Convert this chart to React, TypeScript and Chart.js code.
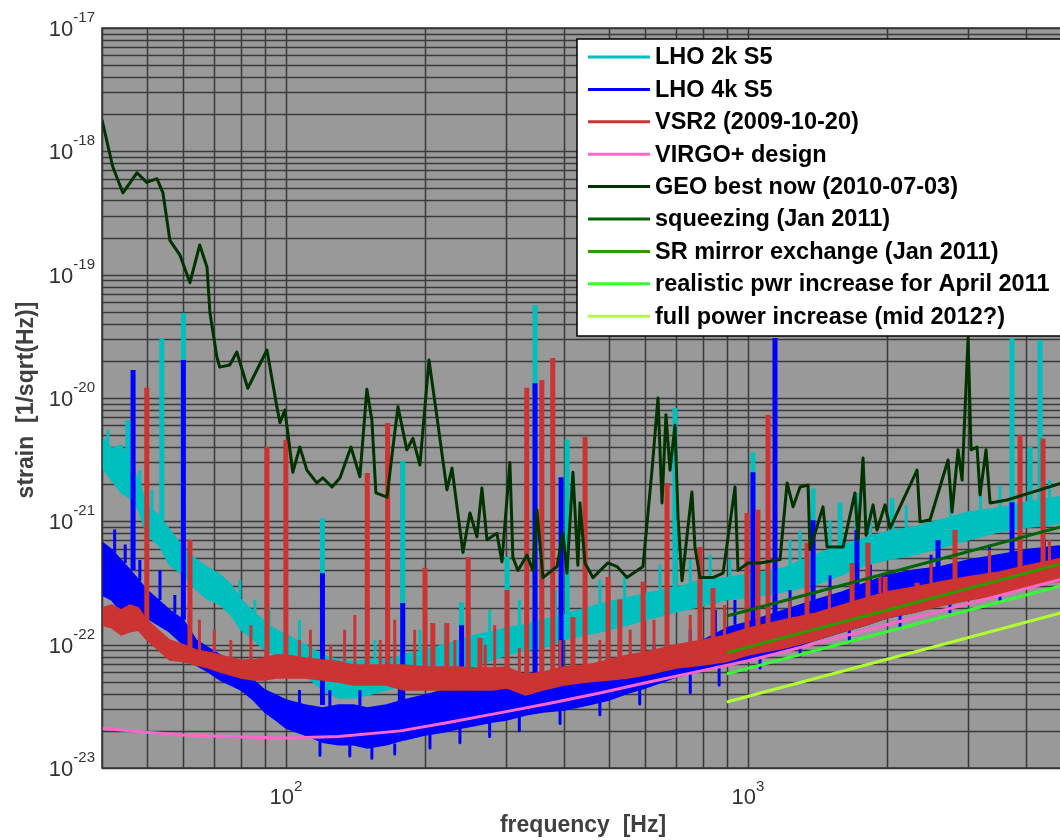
import React, { useEffect, useRef } from "react";
import { Chart, registerables } from "chart.js";

Chart.register(...registerables);

const CANVAS_W = 1080;
const CANVAS_H = 840;

// ---------- data (frequency in Hz, strain in 1/sqrt(Hz)) ----------
const bandFreq = [40, 42, 44, 46, 48, 50, 53, 56, 60, 64, 68, 72, 76, 80, 85, 90, 95, 100, 110, 120, 130, 140, 150, 165, 180, 200, 220, 240, 260, 280, 300, 330, 360, 400, 450, 500, 550, 600, 700, 800, 900, 1000, 1200, 1400, 1600, 1800, 2000, 2300, 2600, 3000, 3500, 4000, 4500, 5000];

const lho2kHigh = [4.8e-21, 3.9e-21, 4.15e-21, 3.0e-21, 2.15e-21, 1.35e-21, 1.12e-21, 8.57e-22, 6.1e-22, 4.89e-22, 4.2e-22, 3.7e-22, 3.07e-22, 2.32e-22, 1.85e-22, 1.54e-22, 1.32e-22, 1.21e-22, 1.0e-22, 8.25e-23, 7.51e-23, 7.3e-23, 7.51e-23, 7.51e-23, 8.25e-23, 9.05e-23, 1.0e-22, 1.1e-22, 1.21e-22, 1.27e-22, 1.37e-22, 1.45e-22, 1.59e-22, 1.75e-22, 2.0e-22, 2.23e-22, 2.4e-22, 2.6e-22, 2.9e-22, 3.37e-22, 3.5e-22, 3.7e-22, 4.2e-22, 5.37e-22, 6.47e-22, 7.35e-22, 8.25e-22, 9.05e-22, 1.02e-21, 1.19e-21, 1.28e-21, 1.43e-21, 1.54e-21, 1.63e-21];
const lho2kLow = [2.7e-21, 2.15e-21, 1.72e-21, 1.54e-21, 1.23e-21, 7.8e-22, 6.47e-22, 4.46e-22, 3.7e-22, 2.79e-22, 2.32e-22, 2.11e-22, 1.75e-22, 1.32e-22, 1.1e-22, 9.05e-23, 8.25e-23, 7.3e-23, 5.68e-23, 4.29e-23, 3.7e-23, 3.7e-23, 3.91e-23, 4.29e-23, 4.71e-23, 5.17e-23, 5.35e-23, 6.0e-23, 6.84e-23, 7.51e-23, 8.25e-23, 9.05e-23, 9.4e-23, 1.1e-22, 1.21e-22, 1.32e-22, 1.45e-22, 1.59e-22, 1.85e-22, 2.07e-22, 2.32e-22, 2.4e-22, 2.7e-22, 3.07e-22, 3.7e-22, 4.46e-22, 4.89e-22, 5.37e-22, 6.1e-22, 7.1e-22, 8.25e-22, 8.9e-22, 9.4e-22, 9.94e-22];

const lho4kHigh = [6.8e-22, 5.87e-22, 4.86e-22, 4.03e-22, 3.35e-22, 2.78e-22, 2.3e-22, 1.91e-22, 1.59e-22, 1.09e-22, 9.4e-23, 8.25e-23, 7.26e-23, 6.23e-23, 5.17e-23, 4.29e-23, 3.91e-23, 3.56e-23, 3.24e-23, 3.07e-23, 3.24e-23, 3.24e-23, 3.07e-23, 3.24e-23, 3.56e-23, 3.91e-23, 4.29e-23, 4.46e-23, 4.71e-23, 4.89e-23, 4.98e-23, 5.17e-23, 4.98e-23, 4.98e-23, 5.17e-23, 5.37e-23, 6.0e-23, 6.84e-23, 9.05e-23, 1.09e-22, 1.37e-22, 1.53e-22, 1.91e-22, 2.3e-22, 2.68e-22, 3.17e-22, 3.66e-22, 4.03e-22, 4.27e-22, 4.86e-22, 5.35e-22, 5.87e-22, 6.2e-22, 6.45e-22];
const lho4kLow = [2.53e-22, 2.3e-22, 1.84e-22, 1.74e-22, 1.74e-22, 1.65e-22, 1.44e-22, 1.27e-22, 1.0e-22, 6.84e-23, 6.0e-23, 5.17e-23, 4.71e-23, 4.29e-23, 3.56e-23, 2.84e-23, 2.45e-23, 2.11e-23, 1.85e-23, 1.62e-23, 1.54e-23, 1.54e-23, 1.45e-23, 1.54e-23, 1.69e-23, 1.85e-23, 1.96e-23, 2.11e-23, 2.23e-23, 2.36e-23, 2.45e-23, 2.69e-23, 2.84e-23, 2.95e-23, 3.24e-23, 3.56e-23, 4.06e-23, 4.46e-23, 5.47e-23, 6.23e-23, 6.84e-23, 7.51e-23, 9.05e-23, 1.09e-22, 1.27e-22, 1.44e-22, 1.65e-22, 1.84e-22, 2.1e-22, 2.39e-22, 2.68e-22, 3.05e-22, 3.35e-22, 3.55e-22];

const vsr2High = [1.98e-22, 2.1e-22, 1.91e-22, 2.1e-22, 1.98e-22, 1.59e-22, 1.31e-22, 1.09e-22, 1.0e-22, 9.05e-23, 8.7e-23, 8.25e-23, 7.8e-23, 7.51e-23, 7.51e-23, 7.8e-23, 8.25e-23, 8.25e-23, 7.8e-23, 7.51e-23, 7.3e-23, 6.84e-23, 6.84e-23, 6.84e-23, 6.84e-23, 6.6e-23, 6.6e-23, 6.6e-23, 6.47e-23, 6.47e-23, 6.6e-23, 5.68e-23, 6.0e-23, 6.6e-23, 6.84e-23, 7.51e-23, 8.25e-23, 8.7e-23, 1.0e-22, 1.09e-22, 1.2e-22, 1.36e-22, 1.59e-22, 1.8e-22, 2.1e-22, 2.39e-22, 2.68e-22, 2.93e-22, 3.22e-22, 3.55e-22, 3.89e-22, 4.37e-22, 4.8e-22, 5.2e-22];
const vsr2Low = [1.44e-22, 1.37e-22, 1.2e-22, 1.27e-22, 1.31e-22, 1.09e-22, 9.05e-23, 7.51e-23, 7.3e-23, 6.84e-23, 6.47e-23, 6.0e-23, 5.68e-23, 5.37e-23, 5.17e-23, 5.17e-23, 5.37e-23, 5.37e-23, 5.37e-23, 5.17e-23, 4.98e-23, 4.71e-23, 4.71e-23, 4.71e-23, 4.29e-23, 4.29e-23, 4.29e-23, 4.29e-23, 4.29e-23, 4.29e-23, 4.46e-23, 3.91e-23, 4.29e-23, 4.71e-23, 4.98e-23, 5.17e-23, 5.37e-23, 5.68e-23, 6.47e-23, 6.84e-23, 7.3e-23, 8.25e-23, 9.4e-23, 1.09e-22, 1.27e-22, 1.44e-22, 1.65e-22, 1.84e-22, 2.06e-22, 2.3e-22, 2.53e-22, 2.88e-22, 3.17e-22, 3.35e-22];

// strong spectral lines: [frequency, from, to]
const lho2kLines: [number, number, number][] = [
  [45.5, 2.15e-21, 6.6e-21], [53.9, 1.02e-21, 3.07e-20], [60, 5.9e-22, 4.89e-20], [120, 8.25e-23, 1.06e-21],
  [179, 7.5e-23, 3.1e-21], [240, 1.0e-22, 2.2e-22], [301, 1.1e-22, 5.17e-22], [346, 1.32e-22, 5.68e-20],
  [406, 1.45e-22, 4.6e-21], [695, 2.32e-22, 8.3e-21], [1025, 2.79e-22, 3.63e-21], [1383, 3.7e-22, 1.85e-21],
  [1582, 4.46e-22, 1.43e-21], [1721, 4.89e-22, 1.69e-21], [2050, 5.9e-22, 1.54e-21], [3727, 1.02e-21, 3.07e-20],
  [4078, 1.12e-21, 4.0e-21], [4285, 1.19e-21, 2.95e-20],
];
const lho4kLines: [number, number, number][] = [
  [46.7, 4.03e-22, 1.69e-20], [60, 1.59e-22, 2.03e-20], [120, 3.24e-23, 3.8e-22], [179, 3.56e-23, 2.18e-22],
  [240, 4.29e-23, 1.44e-22], [346, 4.71e-23, 1.32e-20], [394, 4.29e-23, 2.28e-21], [1025, 1.09e-22, 2.5e-21],
  [1144, 1.59e-22, 3.07e-20], [1383, 1.91e-22, 1.02e-21], [1721, 2.53e-22, 8.5e-22], [2578, 3.35e-22, 7.05e-22],
  [3727, 4.46e-22, 1.43e-21],
];
const vsr2Lines: [number, number, number][] = [
  [50, 1.44e-22, 1.21e-20], [62, 9.05e-23, 7.05e-22], [91, 7.51e-23, 4.0e-21], [100, 7.51e-23, 4.57e-21],
  [150, 6.84e-23, 2.47e-21], [166, 6.84e-23, 6.27e-21], [200, 6.23e-23, 4.2e-22], [208, 6.0e-23, 1.5e-22],
  [223, 6.0e-23, 1.5e-22], [248, 6.0e-23, 5.14e-22], [263, 5.68e-23, 1.13e-22], [301, 5.68e-23, 2.78e-22],
  [332, 4.29e-23, 1.21e-20], [358, 4.71e-23, 1.4e-20], [378, 5.17e-23, 2.11e-20], [418, 5.68e-23, 1.68e-22],
  [444, 6.0e-23, 4.83e-21], [498, 6.47e-23, 3.54e-22], [528, 6.84e-23, 2.32e-22], [593, 7.3e-23, 3.23e-22],
  [668, 8.25e-23, 2.05e-21], [787, 9.05e-23, 6.2e-22], [840, 9.4e-23, 2.88e-22], [995, 1.09e-22, 1.17e-21],
  [1051, 1.13e-22, 1.24e-21], [1105, 1.2e-22, 7.3e-21], [1342, 1.44e-22, 6.7e-22], [1680, 1.74e-22, 4.6e-22],
  [1818, 1.91e-22, 6.7e-22], [1980, 2.1e-22, 3.55e-22], [2322, 2.39e-22, 3.17e-22], [2805, 2.78e-22, 8.5e-22],
  [3879, 3.35e-22, 5.0e-21], [4350, 3.66e-22, 4.7e-21],
];

// small noise excursions off the band edges: [frequency, from, to]
const lho2kNoise: [number, number, number][] = [
  [41.2, 4.3e-21, 5.5e-21], [48.3, 1.9e-21, 2.6e-21], [51.3, 1.25e-21, 1.8e-21], [79.5, 2.4e-22, 3.35e-22],
  [85.7, 1.8e-22, 2.3e-22], [92, 1.45e-22, 2.0e-22], [107, 1.05e-22, 1.59e-22], [134, 7.4e-23, 1.09e-22],
  [156, 7.5e-23, 1.09e-22], [195, 8.9e-23, 1.32e-22], [221, 1.0e-22, 1.44e-22], [250, 1.15e-22, 1.74e-22],
  [276, 1.26e-22, 1.91e-22], [320, 1.42e-22, 2.3e-22], [383, 1.68e-22, 2.78e-22], [444, 1.97e-22, 2.78e-22],
  [478, 2.13e-22, 3.35e-22], [541, 2.37e-22, 3.66e-22], [645, 2.75e-22, 4.46e-22], [750, 3.1e-22, 4.86e-22],
  [828, 3.4e-22, 5.35e-22], [914, 3.55e-22, 4.86e-22], [1233, 4.4e-22, 7.05e-22], [1296, 4.8e-22, 8.5e-22],
  [1505, 5.9e-22, 1.02e-21], [1840, 7.5e-22, 1.23e-21], [2200, 8.8e-22, 1.35e-21], [2745, 1.08e-21, 1.63e-21],
  [3185, 1.22e-21, 1.8e-21], [3510, 1.28e-21, 1.97e-21], [4490, 1.54e-21, 2.15e-21],
];
const lho4kNoise: [number, number, number][] = [
  [42.6, 5.4e-22, 8.6e-22], [44.9, 4.6e-22, 6.5e-22], [48.3, 3.3e-22, 4.86e-22], [53.4, 2.3e-22, 4.03e-22],
  [57.5, 1.8e-22, 2.53e-22], [107, 3.3e-23, 4.29e-23], [124.5, 3.1e-23, 4.29e-23], [144.6, 3.1e-23, 4.29e-23],
  [176, 3.5e-23, 4.71e-23], [215, 4.2e-23, 5.17e-23], [263, 4.7e-23, 5.68e-23], [305, 5.0e-23, 6.0e-23],
  [529, 5.7e-23, 8.25e-23], [626, 7.2e-23, 1.0e-22], [750, 1.0e-22, 1.32e-22], [850, 1.2e-22, 1.91e-22],
  [937, 1.45e-22, 2.3e-22], [1233, 1.95e-22, 2.78e-22], [1505, 2.5e-22, 3.66e-22], [1840, 3.25e-22, 4.46e-22],
  [2490, 4.2e-22, 5.35e-22], [3330, 5.2e-22, 6.45e-22], [4380, 6.1e-22, 7.05e-22],
  [118.5, 1.62e-23, 1.27e-23], [137.5, 1.54e-23, 1.25e-23], [153.5, 1.45e-23, 1.2e-23], [172, 1.54e-23, 1.3e-23],
  [205, 1.85e-23, 1.45e-23], [238, 2.11e-23, 1.6e-23], [276, 2.36e-23, 1.8e-23], [320, 2.6e-23, 2.0e-23],
  [392, 2.95e-23, 2.3e-23], [478, 3.4e-23, 2.7e-23], [583, 4.3e-23, 3.3e-23], [750, 5.8e-23, 4.1e-23],
  [866, 6.6e-23, 4.71e-23], [1062, 7.9e-23, 6.47e-23], [1296, 1.0e-22, 8.25e-23], [1657, 1.3e-22, 1.05e-22],
  [2133, 1.7e-22, 1.37e-22], [2735, 2.2e-22, 1.84e-22], [3510, 2.68e-22, 2.3e-22],
];
const vsr2Noise: [number, number, number][] = [
  [65, 9.05e-23, 1.59e-22], [70, 8.7e-23, 1.32e-22], [76, 7.8e-23, 1.09e-22], [84, 7.51e-23, 1.44e-22],
  [107, 7.8e-23, 1.09e-22], [113, 7.8e-23, 1.32e-22], [125, 7.51e-23, 1.0e-22], [134, 7.3e-23, 1.32e-22],
  [141, 6.84e-23, 1.74e-22], [160, 6.84e-23, 1.09e-22], [172, 6.84e-23, 1.59e-22], [190, 6.6e-23, 1.32e-22],
  [232, 6.6e-23, 1.09e-22], [270, 6.47e-23, 1.0e-22], [283, 6.47e-23, 1.44e-22], [320, 6.0e-23, 9.4e-23],
  [392, 6.6e-23, 1.09e-22], [478, 7.2e-23, 1.09e-22], [556, 8.25e-23, 1.32e-22], [626, 8.9e-23, 1.59e-22],
  [750, 1.05e-22, 1.74e-22], [890, 1.2e-22, 2.1e-22], [1230, 1.6e-22, 2.3e-22], [1500, 1.95e-22, 2.78e-22],
  [1930, 2.6e-22, 3.66e-22], [2490, 3.1e-22, 4.86e-22], [3330, 3.8e-22, 5.87e-22], [4490, 4.8e-22, 7.05e-22],
];

const virgoDesign: [number, number][] = [
  [40, 2.1e-23], [50, 1.95e-23], [60, 1.85e-23], [80, 1.78e-23], [100, 1.75e-23], [130, 1.8e-23], [177, 2.0e-23],
  [226, 2.35e-23], [290, 2.8e-23], [373, 3.35e-23], [478, 4.05e-23], [614, 5.0e-23], [787, 6.1e-23], [1000, 7.4e-23],
  [1300, 9.5e-23], [2000, 1.45e-22], [3000, 2.15e-22], [5000, 3.55e-22],
];

const geoBest: [number, number][] = [
  [40, 1.8e-18], [42.2, 7.5e-19], [44.4, 4.6e-19], [47.6, 6.7e-19], [50, 5.6e-19], [52.6, 6.0e-19], [54.2, 4.6e-19],
  [56.1, 1.9e-19], [59, 1.44e-19], [62, 8.6e-20], [65.1, 1.74e-19], [67.5, 1.15e-19], [68.5, 4.9e-20], [70.9, 2.15e-20],
  [71.9, 1.78e-20], [75.6, 1.85e-20], [78.3, 2.36e-20], [82.7, 1.2e-20], [91, 2.45e-20], [95.6, 8.5e-21], [97.1, 6.3e-21],
  [99.5, 8.0e-21], [103.5, 2.5e-21], [107.2, 4.0e-21], [111, 2.6e-21], [116.7, 2.05e-21], [120.2, 2.25e-21],
  [125.8, 1.9e-21], [130.9, 2.25e-21], [138.3, 4.0e-21], [144.6, 2.3e-21], [149.7, 1.18e-20], [153.5, 6.6e-21],
  [156.6, 1.7e-21], [165.5, 1.57e-21], [170.5, 4.0e-21], [174.8, 8.5e-21], [182.7, 3.8e-21], [188.3, 4.7e-21],
  [195, 2.86e-21], [204, 2.03e-20], [212.3, 7.0e-21], [223.1, 1.8e-21], [228.8, 2.7e-21], [241.6, 5.6e-22],
  [250.2, 1.17e-21], [259.1, 7.5e-22], [265.6, 1.86e-21], [272.3, 7.1e-22], [286.2, 8.0e-22], [293.4, 4.7e-22],
  [305.3, 3.0e-21], [309.9, 5.1e-22], [317.7, 4.0e-22], [332.4, 5.3e-22], [342.5, 4.0e-22], [349.4, 1.24e-21],
  [360, 3.5e-22], [386.1, 4.3e-22], [397.8, 8.0e-22], [405.7, 3.8e-22], [418, 2.5e-21], [428.5, 4.4e-22],
  [432.9, 1.41e-21], [443.8, 4.6e-22], [461.8, 3.5e-22], [497.7, 4.6e-22], [520.6, 4.3e-22], [547.2, 3.5e-22],
  [592.6, 4.3e-22], [619.8, 2.6e-21], [638.6, 1.0e-20], [651.5, 1.41e-21], [664.5, 7.3e-21], [678, 2.6e-21],
  [695, 6.0e-21], [705.6, 1.08e-21], [719.7, 3.3e-22], [756.2, 1.73e-21], [767.7, 6.2e-22], [787.1, 3.5e-22],
  [839.9, 3.5e-22], [883, 3.8e-22], [937.4, 1.9e-21], [951.5, 4.0e-22], [1000, 4.6e-22], [1062, 4.6e-22],
  [1173, 4.9e-22], [1215, 2.05e-21], [1252, 1.31e-21], [1296, 1.9e-21], [1349, 1.97e-21], [1362, 5.9e-22],
  [1453, 1.31e-21], [1483, 6.2e-22], [1606, 6.2e-22], [1704, 1.7e-21], [1730, 7.1e-22], [1774, 3.26e-21],
  [1801, 7.7e-22], [1865, 1.36e-21], [1902, 8.5e-22], [1979, 1.36e-21], [2030, 8.8e-22], [2322, 2.6e-21],
  [2357, 9.9e-22], [2477, 1.03e-21], [2710, 3.14e-21], [2764, 1.19e-21], [2848, 3.8e-21], [2906, 2.16e-21],
  [2994, 3.07e-20], [3039, 3.8e-21], [3131, 4.0e-21], [3178, 1.64e-21], [3274, 3.8e-21], [3341, 1.41e-21],
  [3636, 1.49e-21], [4077, 1.7e-21], [5000, 2.16e-21],
];

const squeezing: [number, number][] = [[900, 1.71e-22], [5000, 9.5e-22]];
const srMirror: [number, number][] = [[900, 8.6e-23], [5000, 4.76e-22]];
const realisticPwr: [number, number][] = [[900, 5.8e-23], [5000, 3.15e-22]];
const fullPower: [number, number][] = [[900, 3.43e-23], [5000, 1.9e-22]];

const seriesLabels = [
  "LHO 2k S5",
  "LHO 4k S5",
  "VSR2 (2009-10-20)",
  "VIRGO+ design",
  "GEO best now (2010-07-03)",
  "squeezing (Jan 2011)",
  "SR mirror exchange (Jan 2011)",
  "realistic pwr increase for April 2011",
  "full power increase (mid 2012?)",
];
const seriesColors = ["#00bfbf", "#0000ff", "#cc3333", "#ff66cc", "#003300", "#006400", "#2e9a00", "#33ff33", "#b0ff30"];

const xRange = [40, 5000];
const yRange = [1e-23, 1e-17];
const xTickExps = [2, 3];
const yTickExps = [-17, -18, -19, -20, -21, -22, -23];
const gridMultipliers = [1, 2, 3, 4, 5, 6, 7, 8, 9];

const FONT = '"Liberation Sans", Arial, Helvetica, sans-serif';

function toPoints(freq: number[], vals: number[]) {
  return freq.map((f, i) => ({ x: f, y: vals[i] }));
}
function pairPoints(pairs: [number, number][]) {
  return pairs.map(([x, y]) => ({ x, y }));
}
function linePoints(lines: [number, number, number][]) {
  const out: { x: number; y: number | null }[] = [];
  for (const [f, b, t] of lines) {
    out.push({ x: f, y: b }, { x: f, y: t }, { x: f, y: null });
  }
  return out;
}

const decorPlugin = {
  id: "decor",
  beforeDatasetsDraw(chart: any) {
    const { ctx, chartArea: a, scales } = chart;
    const xs = scales.x, ys = scales.y;
    ctx.save();
    ctx.fillStyle = "#999999";
    ctx.fillRect(a.left, a.top, a.right - a.left, a.bottom - a.top);
    ctx.strokeStyle = "#3a3a3a";
    ctx.lineWidth = 1.5;
    ctx.beginPath();
    for (let e = 1; e <= 3; e++) {
      for (const k of gridMultipliers) {
        const v = k * Math.pow(10, e);
        if (v < xRange[0] || v > xRange[1]) continue;
        const px = Math.round(xs.getPixelForValue(v)) + 0.5;
        ctx.moveTo(px, a.top);
        ctx.lineTo(px, a.bottom);
      }
    }
    for (let e = -23; e <= -17; e++) {
      for (const k of gridMultipliers) {
        const v = k * Math.pow(10, e);
        if (v < yRange[0] * 0.999 || v > yRange[1] * 1.001) continue;
        const py = Math.round(ys.getPixelForValue(v)) + 0.5;
        ctx.moveTo(a.left, py);
        ctx.lineTo(a.right, py);
      }
    }
    ctx.stroke();
    ctx.restore();
  },
  afterDraw(chart: any) {
    const { ctx, chartArea: a, scales } = chart;
    const xs = scales.x, ys = scales.y;
    ctx.save();
    ctx.strokeStyle = "#333333";
    ctx.lineWidth = 1.5;
    ctx.strokeRect(a.left, a.top, a.right - a.left, a.bottom - a.top);

    // tick labels as 10 with superscript exponent
    ctx.fillStyle = "#333333";
    ctx.textBaseline = "alphabetic";
    const baseFont = `22px ${FONT}`;
    const expFont = `15px ${FONT}`;
    for (const e of yTickExps) {
      const py = ys.getPixelForValue(Math.pow(10, e));
      const expText = String(e);
      ctx.font = expFont;
      const wExp = ctx.measureText(expText).width;
      ctx.textAlign = "left";
      ctx.fillText(expText, 95 - wExp, py - 6);
      ctx.font = baseFont;
      ctx.textAlign = "right";
      ctx.fillText("10", 95 - wExp, py + 8);
    }
    for (const e of xTickExps) {
      const px = xs.getPixelForValue(Math.pow(10, e));
      const expText = String(e);
      ctx.font = expFont;
      const wExp = ctx.measureText(expText).width;
      ctx.font = baseFont;
      const wBase = ctx.measureText("10").width;
      const left = px - (wBase + wExp) / 2;
      ctx.textAlign = "left";
      ctx.fillText("10", left, 804);
      ctx.font = expFont;
      ctx.fillText(expText, left + wBase, 791);
    }

    // axis titles
    ctx.fillStyle = "#404040";
    ctx.font = `bold 23px ${FONT}`;
    ctx.textAlign = "center";
    ctx.fillText("frequency  [Hz]", 583, 832);
    ctx.save();
    ctx.translate(33, 400);
    ctx.rotate(-Math.PI / 2);
    ctx.fillText("strain  [1/sqrt(Hz)]", 0, 0);
    ctx.restore();

    // legend
    const lx = 577, ly = 39, lw = 520, lh = 297;
    ctx.fillStyle = "#ffffff";
    ctx.fillRect(lx, ly, lw, lh);
    ctx.strokeStyle = "#000000";
    ctx.lineWidth = 1.5;
    ctx.strokeRect(lx, ly, lw, lh);
    ctx.font = `bold 23.5px ${FONT}`;
    ctx.textAlign = "left";
    ctx.textBaseline = "middle";
    seriesLabels.forEach((label, i) => {
      const cy = 57 + i * 32.4;
      ctx.strokeStyle = seriesColors[i];
      ctx.lineWidth = 3;
      ctx.beginPath();
      ctx.moveTo(588, cy);
      ctx.lineTo(650, cy);
      ctx.stroke();
      ctx.fillStyle = "#000000";
      ctx.fillText(label, 655, cy + 1);
    });
    ctx.restore();
  },
};

export default function App() {
  const ref = useRef<HTMLCanvasElement>(null);
  useEffect(() => {
    if (!ref.current) return;
    const base = { pointRadius: 0, tension: 0, borderJoinStyle: "round" as const };
    const band = (low: number[], high: number[], color: string) => [
      { ...base, data: toPoints(bandFreq, low), borderColor: color, borderWidth: 1.5, fill: false },
      { ...base, data: toPoints(bandFreq, high), borderColor: color, borderWidth: 1.5, backgroundColor: color, fill: "-1" },
    ];
    const lines = (l: [number, number, number][], color: string, width: number) => ({
      ...base, data: linePoints(l), borderColor: color, borderWidth: width, fill: false, spanGaps: false, borderCapStyle: "butt" as const,
    });
    const datasets: any[] = [
      ...band(lho2kLow, lho2kHigh, seriesColors[0]),
      lines(lho2kNoise, seriesColors[0], 3),
      lines(lho2kLines, seriesColors[0], 5),
      ...band(lho4kLow, lho4kHigh, seriesColors[1]),
      lines(lho4kNoise, seriesColors[1], 3),
      lines(lho4kLines, seriesColors[1], 5),
      ...band(vsr2Low, vsr2High, seriesColors[2]),
      lines(vsr2Noise, seriesColors[2], 3),
      lines(vsr2Lines, seriesColors[2], 5),
      { ...base, data: pairPoints(virgoDesign), borderColor: seriesColors[3], borderWidth: 3, fill: false },
      { ...base, data: pairPoints(geoBest), borderColor: seriesColors[4], borderWidth: 3, fill: false },
      { ...base, data: pairPoints(squeezing), borderColor: seriesColors[5], borderWidth: 3, fill: false },
      { ...base, data: pairPoints(srMirror), borderColor: seriesColors[6], borderWidth: 3, fill: false },
      { ...base, data: pairPoints(realisticPwr), borderColor: seriesColors[7], borderWidth: 3, fill: false },
      { ...base, data: pairPoints(fullPower), borderColor: seriesColors[8], borderWidth: 3, fill: false },
    ];
    datasets.forEach((d, i) => (d.order = 100 - i));
    const chart = new Chart(ref.current, {
      type: "line",
      data: { datasets },
      options: {
        animation: false,
        responsive: false,
        events: [],
        layout: { padding: { left: 102, top: 28, right: CANVAS_W - 1071, bottom: CANVAS_H - 768 } },
        plugins: { legend: { display: false }, tooltip: { enabled: false } },
        scales: {
          x: { type: "logarithmic", min: xRange[0], max: xRange[1], display: false },
          y: { type: "logarithmic", min: yRange[0], max: yRange[1], display: false },
        },
      },
      plugins: [decorPlugin],
    });
    return () => chart.destroy();
  }, []);
  return (
    <div style={{ position: "fixed", left: 0, top: 0, width: 1060, height: 840, overflow: "hidden", background: "#ffffff" }}>
      <canvas ref={ref} width={CANVAS_W} height={CANVAS_H} style={{ display: "block", width: CANVAS_W, height: CANVAS_H }} />
    </div>
  );
}
